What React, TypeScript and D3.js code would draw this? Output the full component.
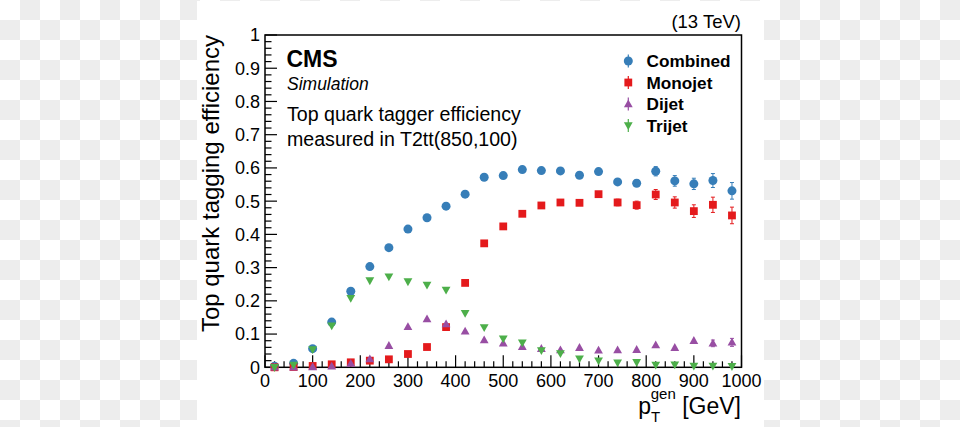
import React from "react";
import * as d3 from "d3";

const ptBins = [20, 60, 100, 140, 180, 220, 260, 300, 340, 380, 420, 460, 500, 540, 580, 620, 660, 700, 740, 780, 820, 860, 900, 940, 980];

const combined = [0.003, 0.012, 0.056, 0.136, 0.229, 0.303, 0.36, 0.416, 0.45, 0.485, 0.521, 0.572, 0.577, 0.595, 0.592, 0.591, 0.578, 0.589, 0.558, 0.554, 0.59, 0.561, 0.552, 0.562, 0.531];
const combinedErr = [0.001, 0.002, 0.003, 0.004, 0.004, 0.004, 0.004, 0.004, 0.005, 0.005, 0.005, 0.006, 0.006, 0.006, 0.007, 0.007, 0.008, 0.008, 0.009, 0.01, 0.014, 0.016, 0.017, 0.021, 0.025];

const monojet = [0.0, 0.001, 0.004, 0.009, 0.015, 0.02, 0.024, 0.04, 0.061, 0.121, 0.254, 0.373, 0.424, 0.462, 0.487, 0.496, 0.495, 0.521, 0.496, 0.488, 0.52, 0.496, 0.47, 0.489, 0.457];
const monojetErr = [0.0, 0.001, 0.001, 0.002, 0.002, 0.002, 0.002, 0.003, 0.003, 0.004, 0.005, 0.006, 0.006, 0.007, 0.007, 0.008, 0.008, 0.009, 0.01, 0.012, 0.015, 0.017, 0.019, 0.023, 0.025];

const dijet = [0.0, 0.0, 0.001, 0.003, 0.011, 0.025, 0.065, 0.122, 0.145, 0.13, 0.108, 0.082, 0.072, 0.062, 0.056, 0.052, 0.059, 0.051, 0.052, 0.053, 0.067, 0.059, 0.08, 0.072, 0.075];
const dijetErr = [0.0, 0.0, 0.001, 0.001, 0.001, 0.002, 0.002, 0.003, 0.003, 0.003, 0.003, 0.003, 0.003, 0.003, 0.004, 0.004, 0.004, 0.005, 0.005, 0.006, 0.007, 0.008, 0.009, 0.01, 0.012];

const trijet = [0.0, 0.007, 0.054, 0.125, 0.208, 0.261, 0.273, 0.258, 0.248, 0.233, 0.163, 0.12, 0.086, 0.074, 0.051, 0.042, 0.026, 0.02, 0.014, 0.015, 0.007, 0.008, 0.004, 0.004, 0.003];
const trijetErr = [0.0, 0.001, 0.002, 0.003, 0.003, 0.003, 0.003, 0.003, 0.003, 0.003, 0.003, 0.003, 0.003, 0.003, 0.003, 0.003, 0.002, 0.002, 0.002, 0.002, 0.002, 0.002, 0.002, 0.002, 0.002];

const seriesNames = ["Combined", "Monojet", "Dijet", "Trijet"];
const seriesColors = ["#377eb8", "#e41a1c", "#984ea3", "#4daf4a"];
const seriesShapes = ["circle", "square", "triangleUp", "triangleDown"];

const xMajorTicks = [0, 100, 200, 300, 400, 500, 600, 700, 800, 900, 1000];
const yMajorTicks = [0, 0.1, 0.2, 0.3, 0.4, 0.5, 0.6, 0.7, 0.8, 0.9, 1];
const yTickLabels = ["0", "0.1", "0.2", "0.3", "0.4", "0.5", "0.6", "0.7", "0.8", "0.9", "1"];

const FONT = "'Liberation Sans', Arial, Helvetica, sans-serif";

function Marker({ shape, cx, cy, color }: { shape: string; cx: number; cy: number; color: string }) {
  if (shape === "circle") return <circle cx={cx} cy={cy} r={4.5} fill={color} />;
  if (shape === "square") return <rect x={cx - 3.9} y={cy - 3.9} width={7.8} height={7.8} fill={color} />;
  if (shape === "triangleUp")
    return <path d={`M${cx},${cy - 4.6} L${cx + 4.4},${cy + 3.2} L${cx - 4.4},${cy + 3.2} Z`} fill={color} />;
  return <path d={`M${cx},${cy + 4.6} L${cx + 4.4},${cy - 3.2} L${cx - 4.4},${cy - 3.2} Z`} fill={color} />;
}

export default function App() {
  const W = 960, H = 427;
  const x = d3.scaleLinear().domain([0, 1000]).range([265, 741.5]);
  const y = d3.scaleLinear().domain([0, 1]).range([367.3, 35]);

  const xMinor = d3.range(0, 1001, 20).filter((v) => v % 100 !== 0);
  const yMinor = d3.range(0, 51, 1).map((i) => i * 0.02).filter((_, i) => i % 5 !== 0);

  const series = [
    { v: combined, e: combinedErr },
    { v: monojet, e: monojetErr },
    { v: dijet, e: dijetErr },
    { v: trijet, e: trijetErr },
  ];

  const checks: JSX.Element[] = [];
  for (let i = 0; i < W / 20; i++)
    for (let j = 0; j < Math.ceil(H / 20); j++)
      if ((i + j) % 2 === 1) checks.push(<rect key={`c${i}-${j}`} x={i * 20} y={j * 20} width={20} height={20} fill="#ededed" />);

  const [x0, x1] = x.range();
  const [y0, y1] = y.range();

  const legendY = [61, 82.5, 104, 125.5];

  return (
    <svg width={W} height={H} style={{ position: "absolute", left: 0, top: 0 }} fontFamily={FONT}>
      {checks}
      <rect x={197} y={1} width={567} height={426} fill="#ffffff" />

      <rect x={x0} y={y1} width={x1 - x0} height={y0 - y1} fill="none" stroke="#000" strokeWidth={1.5} />

      {yMajorTicks.map((t) => (
        <line key={`ym${t}`} x1={x0} x2={x0 + 12} y1={y(t)} y2={y(t)} stroke="#000" strokeWidth={1.2} />
      ))}
      {yMinor.map((t) => (
        <line key={`yn${t}`} x1={x0} x2={x0 + 6.5} y1={y(t)} y2={y(t)} stroke="#000" strokeWidth={1.2} />
      ))}
      {yMajorTicks.map((t, i) => (
        <text key={`yl${t}`} x={260} y={y(t) + 6.4} fontSize={18} textAnchor="end" fill="#000">
          {yTickLabels[i]}
        </text>
      ))}

      {xMajorTicks.map((t) => (
        <line key={`xm${t}`} x1={x(t)} x2={x(t)} y1={y0} y2={y0 - 12} stroke="#000" strokeWidth={1.2} />
      ))}
      {xMinor.map((t) => (
        <line key={`xn${t}`} x1={x(t)} x2={x(t)} y1={y0} y2={y0 - 6} stroke="#000" strokeWidth={1.2} />
      ))}
      {xMajorTicks.map((t) => (
        <text key={`xl${t}`} x={x(t)} y={386.7} fontSize={18} textAnchor="middle" fill="#000">
          {String(t)}
        </text>
      ))}

      <text transform={`translate(218.5,${y1}) rotate(-90)`} fontSize={24} textAnchor="end" fill="#000">
        Top quark tagging efficiency
      </text>
      <text x={741} y={413.5} fontSize={23} textAnchor="end" fill="#000">
        p<tspan fontSize={15} dy={8.5}>T</tspan>
        <tspan fontSize={15} dx={-9.5} dy={-23.5}>gen</tspan>
        <tspan dy={15}> [GeV]</tspan>
      </text>

      <text x={741} y={28.3} fontSize={18.5} textAnchor="end" fill="#000">(13 TeV)</text>

      <text x={286.5} y={66.7} fontSize={23} fontWeight="bold" fill="#000">CMS</text>
      <text x={287} y={90.3} fontSize={17.5} fontStyle="italic" fill="#000">Simulation</text>
      <text x={287} y={121.3} fontSize={19.6} fill="#000">Top quark tagger efficiency</text>
      <text x={287} y={145.5} fontSize={19.6} fill="#000">measured in T2tt(850,100)</text>

      {series.map((s, si) => (
        <g key={`s${si}`}>
          {ptBins.map((p, i) => {
            const cx = x(p);
            const cy = y(s.v[i]);
            const e = s.e[i];
            const yt = y(s.v[i] + e);
            const yb = y(Math.max(0, s.v[i] - e));
            return (
              <g key={`p${i}`}>
                {e > 0.0 && (
                  <g stroke={seriesColors[si]} strokeWidth={1}>
                    <line x1={cx} x2={cx} y1={yt} y2={yb} />
                    {e >= 0.01 && <line x1={cx - 2} x2={cx + 2} y1={yt} y2={yt} />}
                    {e >= 0.01 && <line x1={cx - 2} x2={cx + 2} y1={yb} y2={yb} />}
                  </g>
                )}
                <Marker shape={seriesShapes[si]} cx={cx} cy={cy} color={seriesColors[si]} />
              </g>
            );
          })}
        </g>
      ))}

      {seriesNames.map((n, i) => (
        <g key={`lg${n}`}>
          <line x1={628.3} x2={628.3} y1={legendY[i] - 6.5} y2={legendY[i] + 6.5} stroke={seriesColors[i]} strokeWidth={1.2} />
          <Marker shape={seriesShapes[i]} cx={628.3} cy={legendY[i]} color={seriesColors[i]} />
          <text x={646.5} y={legendY[i] + 6.2} fontSize={17.2} fontWeight="bold" fill="#000">
            {n}
          </text>
        </g>
      ))}
    </svg>
  );
}
